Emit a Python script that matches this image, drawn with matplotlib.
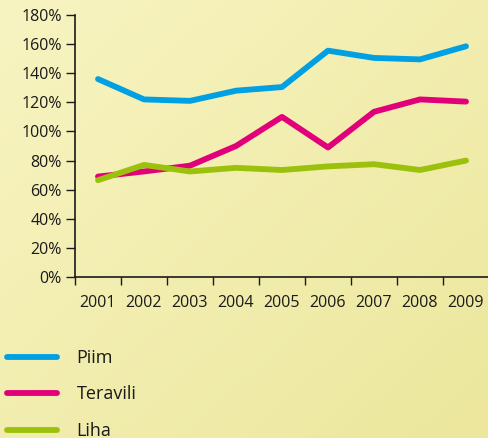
import numpy as np
import matplotlib
matplotlib.use("Agg")
import matplotlib.pyplot as plt
from matplotlib.colors import LinearSegmentedColormap

years = ["2001", "2002", "2003", "2004", "2005", "2006", "2007", "2008", "2009"]
piim = [136, 122, 121, 128, 130.5, 155.5, 150.5, 149.5, 158.5]
teravili = [69, 72.5, 76.5, 90, 110, 89, 113.5, 122, 120.5]
liha = [66.5, 77, 72.5, 75, 73.5, 76, 77.5, 73.5, 80]
series_names = ["Piim", "Teravili", "Liha"]
colors = ["#00a0e3", "#e2007a", "#9cc10c"]
yticks = [0, 20, 40, 60, 80, 100, 120, 140, 160, 180]

plt.rcParams['font.family'] = ['Open Sans', 'DejaVu Sans']

fig = plt.figure(figsize=(4.88, 4.38), dpi=100)

# background gradient: light top-left, darker bottom-right
bg = fig.add_axes([0, 0, 1, 1], zorder=-10)
xx, yy = np.meshgrid(np.linspace(0, 1, 200), np.linspace(0, 1, 200))
grad = (xx + yy) / 2
cmap = LinearSegmentedColormap.from_list("bg", ["#f8f4c2", "#ece79c"])
bg.imshow(grad, cmap=cmap, extent=[0, 1, 0, 1], aspect='auto', origin='upper')
bg.axis('off')

ax = fig.add_axes([75/488, 161/438, 414/488, 262/438])
ax.set_facecolor('none')
x = np.arange(len(years))
lines = []
for vals, name, c in zip([piim, teravili, liha], series_names, colors):
    ln, = ax.plot(x, vals, color=c, lw=4.2, solid_capstyle='round', solid_joinstyle='round', label=name)
    lines.append(ln)

ax.set_xlim(-0.5, len(years) - 0.5)
ax.set_ylim(0, 180)
ax.set_yticks(yticks)
ax.set_yticklabels([f"{v}%" for v in yticks])
ax.set_xticks(x)
ax.set_xticklabels(years)
ax.set_xticks(np.arange(-0.5, len(years)), minor=True)
ax.tick_params(axis='x', which='major', length=0, labelsize=11.5, pad=13, colors='#1a1a1a')
ax.tick_params(axis='x', which='minor', length=6, width=1, direction='out', color='#1a1a1a')
ax.tick_params(axis='y', length=6.5, width=1, direction='out', labelsize=11.5, pad=3, colors='#1a1a1a')
for s in ['top', 'right']:
    ax.spines[s].set_visible(False)
for s in ['left', 'bottom']:
    ax.spines[s].set_color('#1a1a1a')
    ax.spines[s].set_linewidth(1.2)

leg = fig.legend(handles=lines, labels=series_names, loc='upper left',
                 bbox_to_anchor=(7/488, 1 - 349/438), frameon=False, fontsize=13,
                 handlelength=2.75, handletextpad=1.1, labelspacing=1.02,
                 borderaxespad=0, borderpad=0)
for t in leg.get_texts():
    t.set_color('#1a1a1a')

fig.savefig("out.png", dpi=100)
